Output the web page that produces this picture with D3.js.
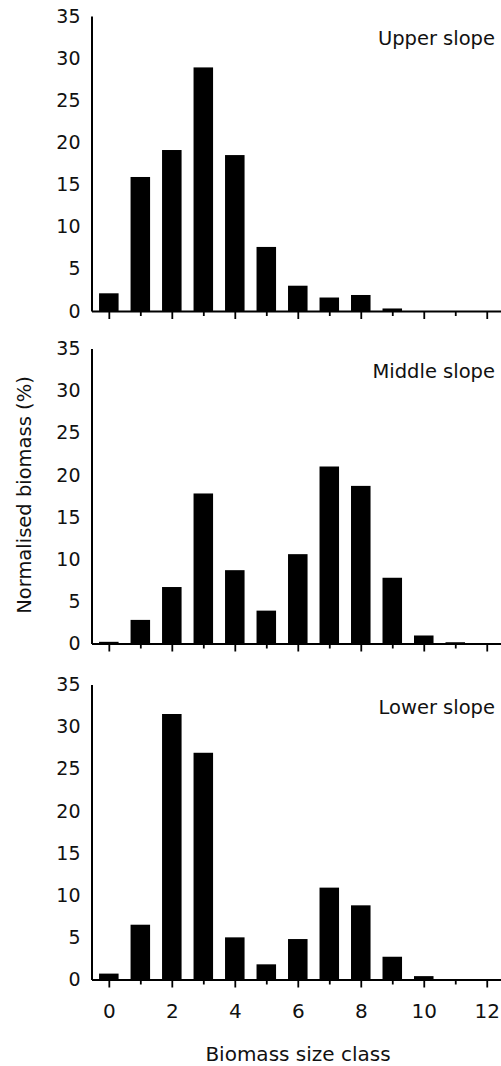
<!DOCTYPE html>
<html>
<head>
    <meta charset="utf-8">
    <title>Biomass size class</title>
    <script src="https://d3js.org/d3.v7.min.js"></script>
    <style>
        body { margin: 0; background: white; }
        text { font-family: "DejaVu Sans", sans-serif; fill: #111; }
    </style>
</head>
<body>
<script>
    // values
    let sizeClasses = [0, 1, 2, 3, 4, 5, 6, 7, 8, 9, 10, 11, 12];
    let upperSlope  = [2.1, 15.9, 19.1, 28.9, 18.5, 7.6, 3.0, 1.6, 1.9, 0.3, 0, 0, 0];
    let middleSlope = [0.2, 2.8, 6.7, 17.8, 8.7, 3.9, 10.6, 21.0, 18.7, 7.8, 0.95, 0.15, 0];
    let lowerSlope  = [0.7, 6.5, 31.5, 26.9, 5.0, 1.8, 4.8, 10.9, 8.8, 2.7, 0.4, 0, 0];
    let panelNames  = ["Upper slope", "Middle slope", "Lower slope"];
    let yTicks = [0, 5, 10, 15, 20, 25, 30, 35];
    let xLabelTicks = [0, 2, 4, 6, 8, 10, 12];

    let series = [upperSlope, middleSlope, lowerSlope];

    let width = 501, height = 1066;
    let left = 91.5, right = 502.5;
    let panelTop = [16, 348.5, 684.5],
        panelH = 295;

    let svg = d3.select("body")
        .append("svg")
            .attr("width", width)
            .attr("height", height);

    let x = d3.scaleLinear()
        .domain([-0.55, 12.5])
        .range([left, right]);

    let barW = x(0.62) - x(0);

    series.forEach((vals, i) => {
        let top = panelTop[i], base = top + panelH;
        let y = d3.scaleLinear().domain([0, 35]).range([base, top]);

        let g = svg.append("g").attr("class", "panel");

        g.selectAll("rect")
            .data(vals)
            .join("rect")
                .attr("x", (d, j) => x(sizeClasses[j]) - barW / 2)
                .attr("width", barW)
                .attr("y", d => y(d))
                .attr("height", d => y(0) - y(d))
                .attr("fill", "black");

        // y axis
        let ya = g.append("g")
            .attr("transform", `translate(${left},0)`)
            .call(d3.axisLeft(y).tickValues(yTicks).tickSize(0).tickPadding(11));
        ya.select(".domain").attr("stroke", "black").attr("stroke-width", 2);
        ya.selectAll("text").attr("font-size", 19).attr("font-family", "DejaVu Sans").attr("fill", "#111");

        // x axis
        let xa = g.append("g")
            .attr("transform", `translate(0,${base})`)
            .call(d3.axisBottom(x).tickValues(sizeClasses).tickSize(8).tickSizeOuter(0).tickPadding(16)
                .tickFormat(d => (i == 2 && xLabelTicks.includes(d)) ? d : ""));
        xa.select(".domain").attr("stroke", "black").attr("stroke-width", 2);
        xa.selectAll(".tick line")
            .attr("stroke", "black")
            .attr("stroke-width", 1.8)
            .attr("y2", d => d % 2 ? 5 : 8);
        xa.selectAll("text").attr("font-size", 20).attr("font-family", "DejaVu Sans").attr("fill", "#111");

        g.append("text")
            .attr("x", 495)
            .attr("y", top + [28.5, 29.5, 29.5][i])
            .attr("text-anchor", "end")
            .attr("font-size", 19.5)
            .text(panelNames[i]);
    });

    svg.append("text")
        .attr("transform", "translate(31,495) rotate(-90)")
        .attr("text-anchor", "middle")
        .attr("font-size", 19.5)
        .text("Normalised biomass (%)");

    svg.append("text")
        .attr("x", 298)
        .attr("y", 1061)
        .attr("text-anchor", "middle")
        .attr("font-size", 20)
        .text("Biomass size class");
</script>
</body>
</html>
